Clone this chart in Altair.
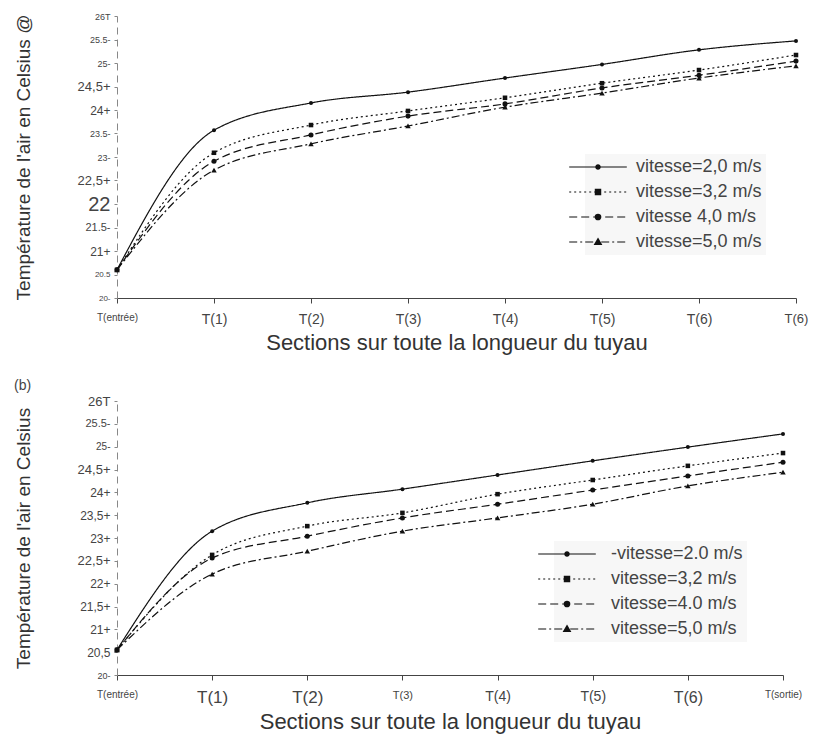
import json
import altair as alt
import pandas as pd

# ---- data -----------------------------------------------------------------
sections_a = ["T(entrée)", "T(1)", "T(2)", "T(3)", "T(4)", "T(5)", "T(6)", "T(6)"]
sections_b = ["T(entrée)", "T(1)", "T(2)", "T(3)", "T(4)", "T(5)", "T(6)", "T(sortie)"]

series_a = ["vitesse=2,0 m/s", "vitesse=3,2 m/s", "vitesse 4,0 m/s", "vitesse=5,0 m/s"]
series_b = ["-vitesse=2.0 m/s", "vitesse=3,2 m/s", "vitesse=4.0 m/s", "vitesse=5,0 m/s"]

# panel (a): air temperature along the pipe, one list per air speed
a_v20 = [20.6, 23.57, 24.15, 24.38, 24.68, 24.97, 25.28, 25.47]
a_v32 = [20.6, 23.09, 23.68, 23.98, 24.26, 24.57, 24.85, 25.17]
a_v40 = [20.6, 22.91, 23.47, 23.87, 24.13, 24.47, 24.74, 25.04]
a_v50 = [20.6, 22.72, 23.28, 23.66, 24.06, 24.36, 24.68, 24.94]

# panel (b)
b_v20 = [20.55, 23.15, 23.77, 24.07, 24.38, 24.69, 24.99, 25.28]
b_v32 = [20.55, 22.63, 23.26, 23.55, 23.96, 24.27, 24.58, 24.86]
b_v40 = [20.55, 22.56, 23.04, 23.44, 23.74, 24.05, 24.36, 24.66]
b_v50 = [20.55, 22.21, 22.71, 23.15, 23.44, 23.74, 24.14, 24.44]

y_ticks = [20, 20.5, 21, 21.5, 22, 22.5, 23, 23.5, 24, 24.5, 25, 25.5, 26]
y_labels_a = ["20-", "20.5", "21+", "21.5-", "22", "22,5+", "23-", "23.5-",
              "24+", "24,5+", "25-", "25.5-", "26T"]
y_labels_b = ["20-", "20,5", "21+", "21,5+", "22+", "22,5+", "23+", "23,5+",
              "24+", "24,5+", "25-", "25.5-", "26T"]

# ---- styling --------------------------------------------------------------
FONT = "Liberation Sans"
INK = "#111111"
TEXT = "#444444"

y_font_a = [8, 8, 12, 11, 20, 13, 9, 9, 12, 13, 9, 9, 9]
y_font_b = [9, 12, 12, 12, 12, 13, 12, 12, 12, 13, 10, 11, 13]
x_font_a = [10, 14, 14, 14, 14, 14, 14, 13]
x_font_b = [10, 17, 17, 11, 14, 14, 16, 10]

dash_patterns = [[1, 0], [2, 3], [8, 4], [8, 3, 2, 3]]
marker_shapes = ["circle", "square", "circle", "triangle-up"]
marker_sizes = [16, 30, 30, 32]

UNIT = 6.0   # pixels per symbol unit for a legend symbol of size 144
HALF = 4.8   # half length of the legend sample line, in symbol units


def sample_line(dash):
    """Horizontal stroke pattern across the legend sample, as path segments."""
    if dash[1] == 0:
        return f"M{-HALF},0H{HALF}"
    parts, x, i = [], -HALF, 0
    while x < HALF:
        step = dash[i % len(dash)] / UNIT
        if i % 2 == 0:
            parts.append(f"M{x:.3f},0H{min(x + step, HALF):.3f}")
        x += step
        i += 1
    return "".join(parts)


def marker_path(kind, small=False):
    """Solid-looking marker built from nested outlines (the key is stroked)."""
    out = []
    if kind == "circle":
        r0 = 0.36 if small else 0.46
        for k in range(4):
            r = max(r0 - 0.14 * k, 0.03)
            out.append(f"M{-r:.3f},0A{r:.3f},{r:.3f} 0 1,0 {r:.3f},0"
                       f"A{r:.3f},{r:.3f} 0 1,0 {-r:.3f},0Z")
    elif kind == "square":
        for k in range(4):
            s = max(0.44 - 0.14 * k, 0.03)
            out.append(f"M{-s:.3f},{-s:.3f}H{s:.3f}V{s:.3f}H{-s:.3f}Z")
    else:
        for k in range(4):
            t = max(0.56 - 0.16 * k, 0.04)
            out.append(f"M0,{-t:.3f}L{t:.3f},{0.75 * t:.3f}L{-t:.3f},{0.75 * t:.3f}Z")
    return "".join(out)


legend_paths = [
    sample_line(d) + marker_path(m, small=(i == 0))
    for i, (d, m) in enumerate(zip(dash_patterns, marker_shapes))
]


def build_frame(sections, names, columns):
    rows = []
    for name, vals in zip(names, columns):
        for i, (sec, v) in enumerate(zip(sections, vals)):
            rows.append({"serie": name, "pos": i, "section": sec, "temp": v})
    return pd.DataFrame(rows)


def panel(df, sections, names, y_labels, y_font, x_font, y_title,
          width, height, legend_x, legend_y, label_offset, title=None):
    x_enc = alt.X(
        "pos:Q",
        scale=alt.Scale(domain=[0, len(sections) - 1], nice=False, zero=False),
        axis=alt.Axis(
            values=list(range(len(sections))),
            labelExpr=f"{json.dumps(sections, ensure_ascii=False)}[datum.value]",
            labelFontSize=alt.ExprRef(f"{json.dumps(x_font)}[datum.value]"),
            labelOverlap=False,
            title="Sections sur toute la longueur du tuyau",
            titleFontSize=22,
            titlePadding=6,
            grid=False,
            tickSize=5,
            labelPadding=9,
            domainColor="#444",
            tickColor="#444",
            labelFlush=False,
        ),
    )
    y_enc = alt.Y(
        "temp:Q",
        scale=alt.Scale(domain=[20, 26], nice=False, zero=False),
        axis=alt.Axis(
            values=y_ticks,
            labelExpr=f"{json.dumps(y_labels)}[round((datum.value - 20) * 2)]",
            labelFontSize=alt.ExprRef(f"{json.dumps(y_font)}[round((datum.value - 20) * 2)]"),
            labelOverlap=False,
            title=y_title,
            titleFontSize=19,
            titlePadding=44,
            grid=False,
            tickSize=3,
            labelPadding=4,
            domainColor="#888",
            domainDash=[7, 5],
            tickColor="#888",
            labelFlush=False,
        ),
    )
    lines = alt.Chart(df).mark_line(
        color=INK, strokeWidth=1.2, interpolate="monotone"
    ).encode(
        x=x_enc,
        y=y_enc,
        strokeDash=alt.StrokeDash(
            "serie:N",
            scale=alt.Scale(domain=names, range=dash_patterns),
            legend=None,
        ),
    )
    points = alt.Chart(df).mark_point(filled=True, color=INK, opacity=1).encode(
        x=x_enc,
        y=y_enc,
        shape=alt.Shape(
            "serie:N",
            scale=alt.Scale(domain=names, range=marker_shapes),
            legend=None,
        ),
        size=alt.Size(
            "serie:N",
            scale=alt.Scale(domain=names, range=marker_sizes),
            legend=None,
        ),
    )
    # legend carrier: draws nothing itself, only supplies the line+marker key
    key = alt.Chart(df).transform_filter("false").mark_point(
        filled=False, color=INK, opacity=1, strokeWidth=1.2
    ).encode(
        x=x_enc,
        y=y_enc,
        shape=alt.Shape(
            "serie:N",
            scale=alt.Scale(domain=names, range=legend_paths),
            legend=alt.Legend(
                title=None,
                orient="none",
                legendX=legend_x,
                legendY=legend_y,
                symbolSize=144,
                symbolStrokeWidth=1.2,
                symbolOpacity=1,
                symbolStrokeColor=INK,
                labelFont=FONT,
                labelFontSize=18,
                labelColor=TEXT,
                labelOffset=label_offset,
                rowPadding=7,
                padding=4,
                fillColor="#f7f7f7",
                labelLimit=300,
            ),
        ),
    )
    props = dict(width=width, height=height)
    if title:
        props["title"] = alt.Title(
            title, anchor="start", frame="bounds", fontSize=14,
            color=TEXT, fontWeight="normal", font=FONT, offset=2,
        )
    return alt.layer(lines, points, key).resolve_scale(shape="independent").properties(**props)


df_a = build_frame(sections_a, series_a, [a_v20, a_v32, a_v40, a_v50])
df_b = build_frame(sections_b, series_b, [b_v20, b_v32, b_v40, b_v50])

top = panel(df_a, sections_a, series_a, y_labels_a, y_font_a, x_font_a,
            "Température de l'air en Celsius @", 679, 282, 468, 138, 29)
bottom = panel(df_b, sections_b, series_b, y_labels_b, y_font_b, x_font_b,
               "Température de l'air en Celsius", 666, 274, 437, 140, 35,
               title="(b)")

chart = alt.vconcat(top, bottom, spacing=26).resolve_scale(
    shape="independent", strokeDash="independent", size="independent"
).properties(
    padding={"left": 14, "top": 12, "right": 5, "bottom": 5},
    background="white",
).configure_view(stroke=None).configure_axis(
    labelFont=FONT, titleFont=FONT, labelColor=TEXT, titleColor="#333",
    titleFontWeight="normal",
)

chart.save("out.html", embed_options={"renderer": "svg", "actions": False})
